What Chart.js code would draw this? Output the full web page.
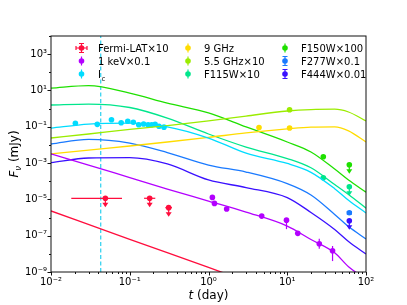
<!DOCTYPE html>
<html>
<head>
<meta charset="utf-8">
<title>Light curves</title>
<script src="https://cdn.jsdelivr.net/npm/chart.js"></script>
<style>
  body{ margin:0; padding:0; background:#fff; }
  #chart{ display:block; }
</style>
</head>
<body>
<canvas id="chart" width="407" height="305"></canvas>
<script>
// model curves (t in day, flux in mJy)
var tModel   = [0.01, 0.03, 0.1, 0.3, 1, 3, 10, 20, 40, 60, 100];
var modF150  = [13.5, 18.6, 7.2, 2.0, 0.58, 0.098, 0.0145, 4.1e-3, 4.7e-4, 1.17e-4, 2.5e-5];
var modF115  = [1.58, 1.78, 1.15, 0.30, 0.040, 7.6e-3, 1.78e-3, 5.5e-4, 6.6e-5, 1.86e-5, 3.3e-6];
var modIc    = [0.085, 0.141, 0.158, 0.100, 0.024, 3.5e-3, 9.5e-4, 3.1e-4, 3.9e-5, 8.9e-6, 1.78e-6];
var mod55    = [0.024, 0.040, 0.071, 0.117, 0.21, 0.39, 0.74, 0.89, 0.93, 0.65, 0.21];
var mod9     = [3.2e-3, 5.2e-3, 8.7e-3, 0.0145, 0.026, 0.046, 0.076, 0.095, 0.098, 0.059, 0.0145];
var modF277  = [0.0112, 0.020, 0.0126, 3.8e-3, 7.8e-4, 3.2e-4, 7.4e-5, 1.74e-5, 1.48e-6, 3.2e-7, 6.6e-8];
var modF444  = [1.05e-3, 1.9e-3, 2.0e-3, 8.9e-4, 1.17e-4, 4.5e-5, 1.26e-5, 1.9e-6, 2.2e-7, 4.8e-8, 9.8e-9];
var modKev   = [3.2e-3, 7.8e-4, 1.58e-4, 3.7e-5, 8.1e-6, 2.0e-6, 3.4e-7, 6.2e-8, 1.15e-8, 1.95e-9, 4.0e-10];
var tFermiModel = [0.01, 0.1, 1, 3];
var modFermi    = [2.3e-6, 6.3e-8, 1.78e-9, 3.2e-10];

// observations
var tIc = [0.0204, 0.0387, 0.0586, 0.0778, 0.0944, 0.111, 0.130, 0.150, 0.171, 0.190, 0.210, 0.235, 0.272];
var fIc = [0.155, 0.136, 0.245, 0.166, 0.200, 0.178, 0.129, 0.141, 0.130, 0.129, 0.138, 0.107, 0.095];

var tKev   = [1.12, 1.19, 1.70, 4.74, 9.78, 13.6, 25.5, 37.6];
var fKev   = [1.29e-5, 6.0e-6, 2.95e-6, 1.20e-6, 7.2e-7, 1.35e-7, 3.6e-8, 1.48e-8];
var fKevLo = [1.05e-5, null, null, 9.5e-7, 2.3e-7, null, 1.9e-8, 4.0e-9];
var fKevHi = [1.55e-5, null, null, 1.5e-6, 7.2e-7, null, 6.8e-8, 2.7e-8];

var tFermi   = [0.049, 0.179, 0.312];
var tFermiLo = [0.0181, 0.152, 0.283];
var tFermiHi = [0.0797, 0.211, 0.344];
var fFermi   = [1.15e-5, 1.15e-5, 3.5e-6];

var t9  = [4.38, 10.7];
var f9  = [0.091, 0.085];
var t55 = [10.7];
var f55 = [0.87];
var tJwst  = [28.7, 61.4];
var fF115  = [1.55e-4, 5.0e-5];
var fF150  = [2.24e-3, 8.1e-4];
var tLate  = [61.4];
var fF277  = [1.82e-6];
var fF444  = [6.6e-7];

var tBreak = 0.0428;

var xTicks = [0.01, 0.1, 1, 10, 100];
var yTicks = [1e-9, 1e-7, 1e-5, 1e-3, 1e-1, 1e1, 1e3];

var col = {
  fermi: '#ff0d3d', kev: '#b300ff', ic: '#00dcff', g9: '#ffdc00', g55: '#9bec00',
  f115: '#00e68c', f150: '#1fe000', f277: '#1a7aff', f444: '#3a10ff'
};

function pts(ts, fs){ return ts.map(function(t, i){ return {x: t, y: fs[i]}; }); }

function model(ts, fs, c){
  return { type:'line', data: pts(ts, fs), borderColor: c, borderWidth: 1.3,
           pointRadius: 0, fill: false, cubicInterpolationMode: 'monotone' };
}
function obs(ts, fs, c, extra){
  var d = { type:'line', data: pts(ts, fs), showLine: false, pointRadius: 2.8,
            pointBackgroundColor: c, pointBorderColor: c, borderColor: c, pointBorderWidth: 0 };
  for (var k in extra) d[k] = extra[k];
  return d;
}

var sup = {'-':'\u207b','0':'\u2070','1':'\u00b9','2':'\u00b2','3':'\u00b3','4':'\u2074',
           '5':'\u2075','6':'\u2076','7':'\u2077','8':'\u2078','9':'\u2079'};
function powLabel(v){
  var e = String(Math.round(Math.log10(v)));
  return '10' + e.split('').map(function(ch){ return sup[ch]; }).join('');
}

Chart.defaults.font.family = 'DejaVu Sans';

var decor = {
  id: 'decor',
  beforeDraw: function(chart){
    var ctx = chart.ctx;
    ctx.save(); ctx.fillStyle = '#fff'; ctx.fillRect(0, 0, chart.width, chart.height); ctx.restore();
  },
  afterDatasetsDraw: function(chart){
    var ctx = chart.ctx, xs = chart.scales.x, ys = chart.scales.y, a = chart.chartArea;
    ctx.save();
    ctx.beginPath(); ctx.rect(a.left, a.top, a.right - a.left, a.bottom - a.top); ctx.clip();
    chart.data.datasets.forEach(function(ds){
      if (!ds.err) return;
      var e = ds.err;
      ctx.strokeStyle = ds.borderColor; ctx.fillStyle = ds.borderColor; ctx.lineWidth = 1.2;
      ds.data.forEach(function(p, i){
        var px = xs.getPixelForValue(p.x), py = ys.getPixelForValue(p.y);
        if (e.xLo){
          ctx.beginPath(); ctx.moveTo(xs.getPixelForValue(e.xLo[i]), py);
          ctx.lineTo(xs.getPixelForValue(e.xHi[i]), py); ctx.stroke();
        }
        if (e.yLo && e.yLo[i] != null){
          var y0 = ys.getPixelForValue(e.yHi[i]), y1 = ys.getPixelForValue(e.yLo[i]);
          ctx.beginPath(); ctx.moveTo(px, y0); ctx.lineTo(px, y1); ctx.stroke();
          if (e.caps){
            ctx.beginPath(); ctx.moveTo(px - 2.5, y0); ctx.lineTo(px + 2.5, y0);
            ctx.moveTo(px - 2.5, y1); ctx.lineTo(px + 2.5, y1); ctx.stroke();
          }
        }
        if (e.ul && e.ul[i]){
          ctx.beginPath(); ctx.moveTo(px, py); ctx.lineTo(px, py + 6); ctx.stroke();
          ctx.beginPath(); ctx.moveTo(px - 3, py + 4.5); ctx.lineTo(px + 3, py + 4.5);
          ctx.lineTo(px, py + 9); ctx.closePath(); ctx.fill();
        }
      });
    });
    ctx.restore();
  },
  afterDraw: function(chart){
    var ctx = chart.ctx, xs = chart.scales.x, ys = chart.scales.y, a = chart.chartArea;
    ctx.save();
    // frame
    ctx.strokeStyle = '#111'; ctx.lineWidth = 1;
    ctx.strokeRect(a.left, a.top, a.right - a.left, a.bottom - a.top);
    // x ticks
    ctx.beginPath();
    for (var d = -2; d <= 2; d++){
      var px = Math.round(xs.getPixelForValue(Math.pow(10, d))) + 0.5;
      ctx.moveTo(px, a.bottom); ctx.lineTo(px, a.bottom + 3.5);
      if (d < 2){
        for (var m = 2; m <= 9; m++){
          var qx = Math.round(xs.getPixelForValue(m * Math.pow(10, d))) + 0.5;
          ctx.moveTo(qx, a.bottom); ctx.lineTo(qx, a.bottom + 2);
        }
      }
    }
    // y ticks
    for (var e = -9; e <= 4; e++){
      var py = Math.round(ys.getPixelForValue(Math.pow(10, e))) + 0.5;
      var len = (e % 2 !== 0) ? 3.5 : 2;
      ctx.moveTo(a.left, py); ctx.lineTo(a.left - len, py);
    }
    ctx.stroke();

    // axis titles
    ctx.fillStyle = '#000'; ctx.textBaseline = 'alphabetic'; ctx.textAlign = 'left';
    ctx.font = 'italic 12px DejaVu Sans';
    var w1 = ctx.measureText('t').width;
    ctx.font = '12px DejaVu Sans';
    var w2 = ctx.measureText(' (day)').width;
    var cx = (a.left + a.right) / 2 - (w1 + w2) / 2;
    ctx.font = 'italic 12px DejaVu Sans'; ctx.fillText('t', cx, 299);
    ctx.font = '12px DejaVu Sans'; ctx.fillText(' (day)', cx + w1, 299);

    ctx.save();
    ctx.translate(18, (a.top + a.bottom) / 2);
    ctx.rotate(-Math.PI / 2);
    ctx.font = 'italic 12px DejaVu Sans'; var wF = ctx.measureText('F').width;
    ctx.font = 'italic 8.5px DejaVu Sans'; var wn = ctx.measureText('\u03bd').width;
    ctx.font = '12px DejaVu Sans'; var wr = ctx.measureText(' (mJy)').width;
    var sx = -(wF + wn + wr) / 2;
    ctx.font = 'italic 12px DejaVu Sans'; ctx.fillText('F', sx, 0);
    ctx.font = 'italic 8.5px DejaVu Sans'; ctx.fillText('\u03bd', sx + wF, 2.5);
    ctx.font = '12px DejaVu Sans'; ctx.fillText(' (mJy)', sx + wF + wn, 0);
    ctx.restore();

    // legend
    var rows = [48, 61, 74];
    var entries = [
      {c: col.fermi, t: 'Fermi-LAT\u00d710', mx: 81.5, tx: 98, r: 0, k: 'cross'},
      {c: col.kev,   t: '1 keV\u00d70.1',     mx: 81.5, tx: 98, r: 1, k: 'bar'},
      {c: col.ic,    t: 'I',                  mx: 81.5, tx: 98, r: 2, k: 'bar', sub: 'c'},
      {c: col.g9,    t: '9 GHz',              mx: 188, tx: 204, r: 0, k: 'bar'},
      {c: col.g55,   t: '5.5 GHz\u00d710',    mx: 188, tx: 204, r: 1, k: 'bar'},
      {c: col.f115,  t: 'F115W\u00d710',      mx: 188, tx: 204, r: 2, k: 'bar'},
      {c: col.f150,  t: 'F150W\u00d7100',     mx: 285, tx: 301, r: 0, k: 'bar'},
      {c: col.f277,  t: 'F277W\u00d70.1',     mx: 285, tx: 301, r: 1, k: 'cap'},
      {c: col.f444,  t: 'F444W\u00d70.01',    mx: 285, tx: 301, r: 2, k: 'cap'}
    ];
    entries.forEach(function(en){
      var y = rows[en.r];
      ctx.strokeStyle = en.c; ctx.fillStyle = en.c; ctx.lineWidth = 1.2;
      ctx.beginPath(); ctx.moveTo(en.mx, y - 4.5); ctx.lineTo(en.mx, y + 4.5);
      if (en.k === 'cross'){
        ctx.moveTo(en.mx - 5.5, y); ctx.lineTo(en.mx + 5.5, y);
        ctx.moveTo(en.mx - 5.5, y - 2); ctx.lineTo(en.mx - 5.5, y + 2);
        ctx.moveTo(en.mx + 5.5, y - 2); ctx.lineTo(en.mx + 5.5, y + 2);
      }
      if (en.k === 'cross' || en.k === 'cap'){
        ctx.moveTo(en.mx - 2.5, y - 4.5); ctx.lineTo(en.mx + 2.5, y - 4.5);
        ctx.moveTo(en.mx - 2.5, y + 4.5); ctx.lineTo(en.mx + 2.5, y + 4.5);
      }
      ctx.stroke();
      ctx.beginPath(); ctx.arc(en.mx, y, 2.8, 0, Math.PI * 2); ctx.fill();
      ctx.fillStyle = '#000'; ctx.font = '10px DejaVu Sans';
      ctx.fillText(en.t, en.tx, y + 3.6);
      if (en.sub){
        var wt = ctx.measureText(en.t).width;
        ctx.font = '7px DejaVu Sans';
        ctx.fillText(en.sub, en.tx + wt + 0.5, y + 6.5);
      }
    });
    ctx.restore();
  }
};

var datasets = [
  model(tFermiModel, modFermi, col.fermi),
  model(tModel, modKev, col.kev),
  model(tModel, modIc, col.ic),
  model(tModel, mod9, col.g9),
  model(tModel, mod55, col.g55),
  model(tModel, modF115, col.f115),
  model(tModel, modF150, col.f150),
  model(tModel, modF277, col.f277),
  model(tModel, modF444, col.f444),
  { type:'line', data: [{x: tBreak, y: 1e-9}, {x: tBreak, y: 1e4}], borderColor: '#2ad0ee',
    borderWidth: 1.2, borderDash: [4, 2.5], pointRadius: 0, tension: 0 },
  obs(tFermi, fFermi, col.fermi, {err: {xLo: tFermiLo, xHi: tFermiHi, ul: [true, true, true]}}),
  obs(tKev, fKev, col.kev, {err: {yLo: fKevLo, yHi: fKevHi}}),
  obs(tIc, fIc, col.ic, {}),
  obs(t9, f9, col.g9, {}),
  obs(t55, f55, col.g55, {}),
  obs(tJwst, fF115, col.f115, {err: {ul: [false, true]}}),
  obs(tJwst, fF150, col.f150, {err: {ul: [false, true]}}),
  obs(tLate, fF277, col.f277, {err: {yLo: [1.55e-6], yHi: [2.1e-6], caps: true}}),
  obs(tLate, fF444, col.f444, {err: {ul: [true]}})
];

new Chart(document.getElementById('chart').getContext('2d'), {
  type: 'line',
  data: { datasets: datasets },
  plugins: [decor],
  options: {
    responsive: false,
    animation: false,
    events: [],
    layout: { padding: { left: 0, right: 41, top: 36, bottom: 0 } },
    plugins: { legend: { display: false }, tooltip: { enabled: false } },
    scales: {
      x: {
        type: 'logarithmic', min: 0.01, max: 100,
        grid: { display: false, drawTicks: false },
        border: { display: false },
        afterBuildTicks: function(s){ s.ticks = xTicks.map(function(v){ return {value: v}; }); },
        afterFit: function(s){ s.height = 33; },
        ticks: { autoSkip: false, maxRotation: 0, padding: 4, color: '#000',
                 font: { size: 10 }, callback: function(v){ return powLabel(v); } }
      },
      y: {
        type: 'logarithmic', min: 1e-9, max: 1e4,
        grid: { display: false, drawTicks: false },
        border: { display: false },
        afterBuildTicks: function(s){ s.ticks = yTicks.map(function(v){ return {value: v}; }); },
        afterFit: function(s){ s.width = 51; },
        ticks: { autoSkip: false, padding: 4, color: '#000',
                 font: { size: 10 }, callback: function(v){ return powLabel(v); } }
      }
    }
  }
});
</script>
</body>
</html>
